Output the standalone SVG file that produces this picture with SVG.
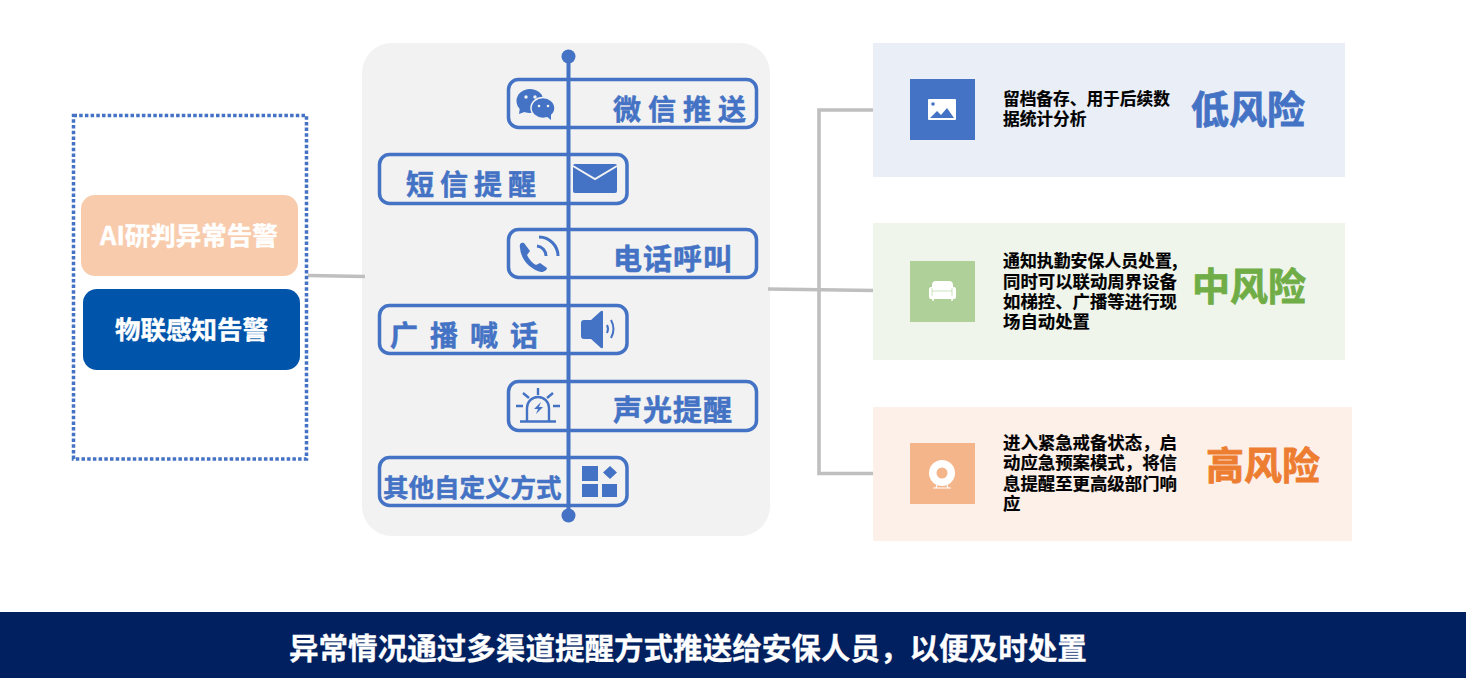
<svg xmlns="http://www.w3.org/2000/svg" width="1466" height="678" viewBox="0 0 1466 678">
<style>
text{font-family:"Noto Sans CJK SC","Liberation Sans",sans-serif;font-weight:700}
.pill{fill:none;stroke:#4472c4;stroke-width:3.5}
.ch{fill:#4472c4;stroke:#4472c4;stroke-width:.5px;font-size:28px}
.i{fill:#4472c4}
.il{fill:none;stroke:#4472c4;stroke-width:3}
.d{fill:#000;stroke:#000;stroke-width:.2px;font-size:17.400px}
.g{fill:none;stroke:#bfbfbf;stroke-width:3.6}
.w{fill:#fff}
.t{font-size:38px;stroke-width:.8px}
</style>
<rect width="1466" height="678" fill="#fff"/>
<rect id="panel" x="362" y="43" width="408" height="493" rx="30" fill="#f2f2f2"/>
<g id="connectors">
<path class="g" d="M308 275.500L365 276.500"/>
<path class="g" d="M768 289L875 290.500"/>
<path class="g" d="M874 110H819V473.500H874"/>
</g>
<g id="source-frame"><rect x="73.500" y="115.500" width="233" height="343.500" fill="none" stroke="#4472c4" stroke-width="3.500" stroke-dasharray="3.500 2.200"/></g>
<g id="ai-alarm"><rect x="81" y="195" width="217" height="81" rx="14" fill="#f8cbad"/><text x="189" y="245" text-anchor="middle" font-size="25.500" fill="#fff" stroke="#fff" stroke-width=".4">AI研判异常告警</text></g>
<g id="iot-alarm"><rect x="83" y="289" width="217" height="81" rx="14" fill="#0054aa"/><text x="191.500" y="339" text-anchor="middle" font-size="25.500" fill="#fff" stroke="#fff" stroke-width=".4">物联感知告警</text></g>
<g id="channels">
<g id="wechat"><rect class="pill" x="508.500" y="79.500" width="248" height="48" rx="10"/><text class="ch" x="613" y="120" letter-spacing="7">微信推送</text>
<ellipse class="i" cx="530" cy="101" rx="13.500" ry="12"/><path class="i" d="M520 107l-1 7 8-3z"/><ellipse cx="543" cy="108" rx="12" ry="10.500" class="i" stroke="#f2f2f2" stroke-width="1.500"/><path class="i" d="M546 116l5 4v-6z"/><g fill="#f2f2f2"><circle cx="526" cy="97" r="1.700"/><circle cx="535" cy="97" r="1.700"/><circle cx="539" cy="106" r="1.300"/><circle cx="548" cy="106" r="1.300"/></g></g>
<g id="sms"><rect class="pill" x="379.500" y="154.500" width="247.500" height="49" rx="10"/><text class="ch" x="406" y="195" letter-spacing="6">短信提醒</text>
<rect class="i" x="573" y="164" width="44" height="29" rx="2"/><path d="M573 166l22 13 22-13" fill="none" stroke="#f2f2f2" stroke-width="2"/></g>
<g id="phone"><rect class="pill" x="508.500" y="229.500" width="248" height="48" rx="10"/><text class="ch" x="613" y="270" letter-spacing="1" style="font-size:29px">电话呼叫</text>
<path class="i" d="M524 243c-3-1-5 1-4 5 1 12 10 21 21 24 3 0 6-2 6-4l-7-5-4 2c-4-2-7-6-9-10l3-4z"/><path class="il" d="M537 246a10 10 0 0 1 9 10M539 237a19 19 0 0 1 19 19"/></g>
<g id="broadcast"><rect class="pill" x="379.500" y="305.500" width="247.500" height="48" rx="10"/><text class="ch" x="390" y="346" letter-spacing="12">广播喊话</text>
<path class="i" d="M584 320h7l10-9q2-1 2 1v35q0 2-2 1l-10-9h-7q-3 0-3-3v-13q0-3 3-3z"/><path class="il" style="stroke-width:2" d="M607 325q2 4 0 8M611 320q5 9 0 18"/></g>
<g id="light"><rect class="pill" x="508.500" y="381.500" width="248" height="49" rx="10"/><text class="ch" x="613" y="421" letter-spacing="1" style="font-size:29px">声光提醒</text>
<path class="il" style="stroke-width:2.400" d="M527 421v-13a11 11 0 0 1 22 0v13M520 421.500h36M538 388v7M523 393l6 5M553 393l-6 5M516 406h7M553 406h7"/><path class="i" d="M541 402l-7 7h4l-2 5 7-7h-4z"/></g>
<g id="custom"><rect class="pill" x="379.500" y="457.500" width="247.500" height="48" rx="10"/><text class="ch" x="383" y="497" style="font-size:25.500px">其他自定义方式</text>
<rect class="i" x="582" y="466" width="16" height="15"/><path class="i" d="M610 466l7 6.500-7 6.500-7-6.500z"/><rect class="i" x="582" y="484" width="16" height="13"/><rect class="i" x="602" y="484" width="15" height="13"/></g>
</g>
<g id="spine"><path d="M568.500 56V515" stroke="#4472c4" stroke-width="4"/><circle cx="568.500" cy="56.500" r="7" fill="#4472c4"/><circle cx="568.500" cy="515.500" r="7" fill="#4472c4"/></g>
<g id="low-risk"><rect x="873" y="43" width="472" height="134" fill="#e9eef7"/><rect x="910" y="79" width="65" height="61" fill="#4472c4"/>
<rect class="w" x="928" y="99" width="28" height="21" rx="1"/><path class="i" d="M930 118l7-7 4 4 6-7 7 10z"/><circle class="i" cx="933" cy="104" r="1.800"/>
<text class="d" style="font-size:16.700px"><tspan x="1003" y="105">留档备存、用于后续数</tspan><tspan x="1003" y="125">据统计分析</tspan></text>
<text class="t" x="1191" y="123" fill="#4472c4" stroke="#4472c4">低风险</text></g>
<g id="mid-risk"><rect x="873" y="223" width="472" height="137" fill="#eff5eb"/><rect x="910" y="261" width="65" height="61" fill="#b0d09a"/>
<path class="w" d="M935 281h14q4 0 4 4v2h1q2 0 2 3v7q0 2-2 2h-1l-.5 2h-1l-.5-2h-17l-.5 2h-1l-.5-2h-1q-2 0-2-2v-7q0-3 2-3h1v-2q0-4 4-4z"/><path d="M932 288v3h20v-3M932 291v5M952 291v5" stroke="#b0d09a" stroke-width=".9" fill="none" opacity=".7"/>
<text class="d"><tspan x="1003" y="267" style="font-size:16.900px">通知执勤安保人员处置,</tspan><tspan x="1003" y="288">同时可以联动周界设备</tspan><tspan x="1003" y="308">如梯控、广播等进行现</tspan><tspan x="1003" y="328">场自动处置</tspan></text>
<text class="t" x="1192" y="300" fill="#70ad47" stroke="#70ad47">中风险</text></g>
<g id="high-risk"><rect x="873" y="407" width="479" height="134" fill="#fdf0e9"/><rect x="910" y="443" width="65" height="61" fill="#f4b58b"/>
<circle class="w" cx="942" cy="473" r="13"/><circle cx="942" cy="473" r="5.500" fill="#f4b58b"/><path d="M933 488h18M936 488l1-3M948 488l-1-3" stroke="#fff" stroke-width="1.200" fill="none"/>
<text class="d"><tspan x="1003" y="449">进入紧急戒备状态，启</tspan><tspan x="1003" y="469">动应急预案模式，将信</tspan><tspan x="1003" y="490">息提醒至更高级部门响</tspan><tspan x="1003" y="510">应</tspan></text>
<text class="t" x="1206" y="479" fill="#ed7d31" stroke="#ed7d31">高风险</text></g>
<g id="footer"><rect x="0" y="612" width="1466" height="66" fill="#002060"/><text x="289" y="659" font-size="29.560" fill="#fff" stroke="#fff" stroke-width=".3">异常情况通过多渠道提醒方式推送给安保人员，以便及时处置</text></g>
</svg>
